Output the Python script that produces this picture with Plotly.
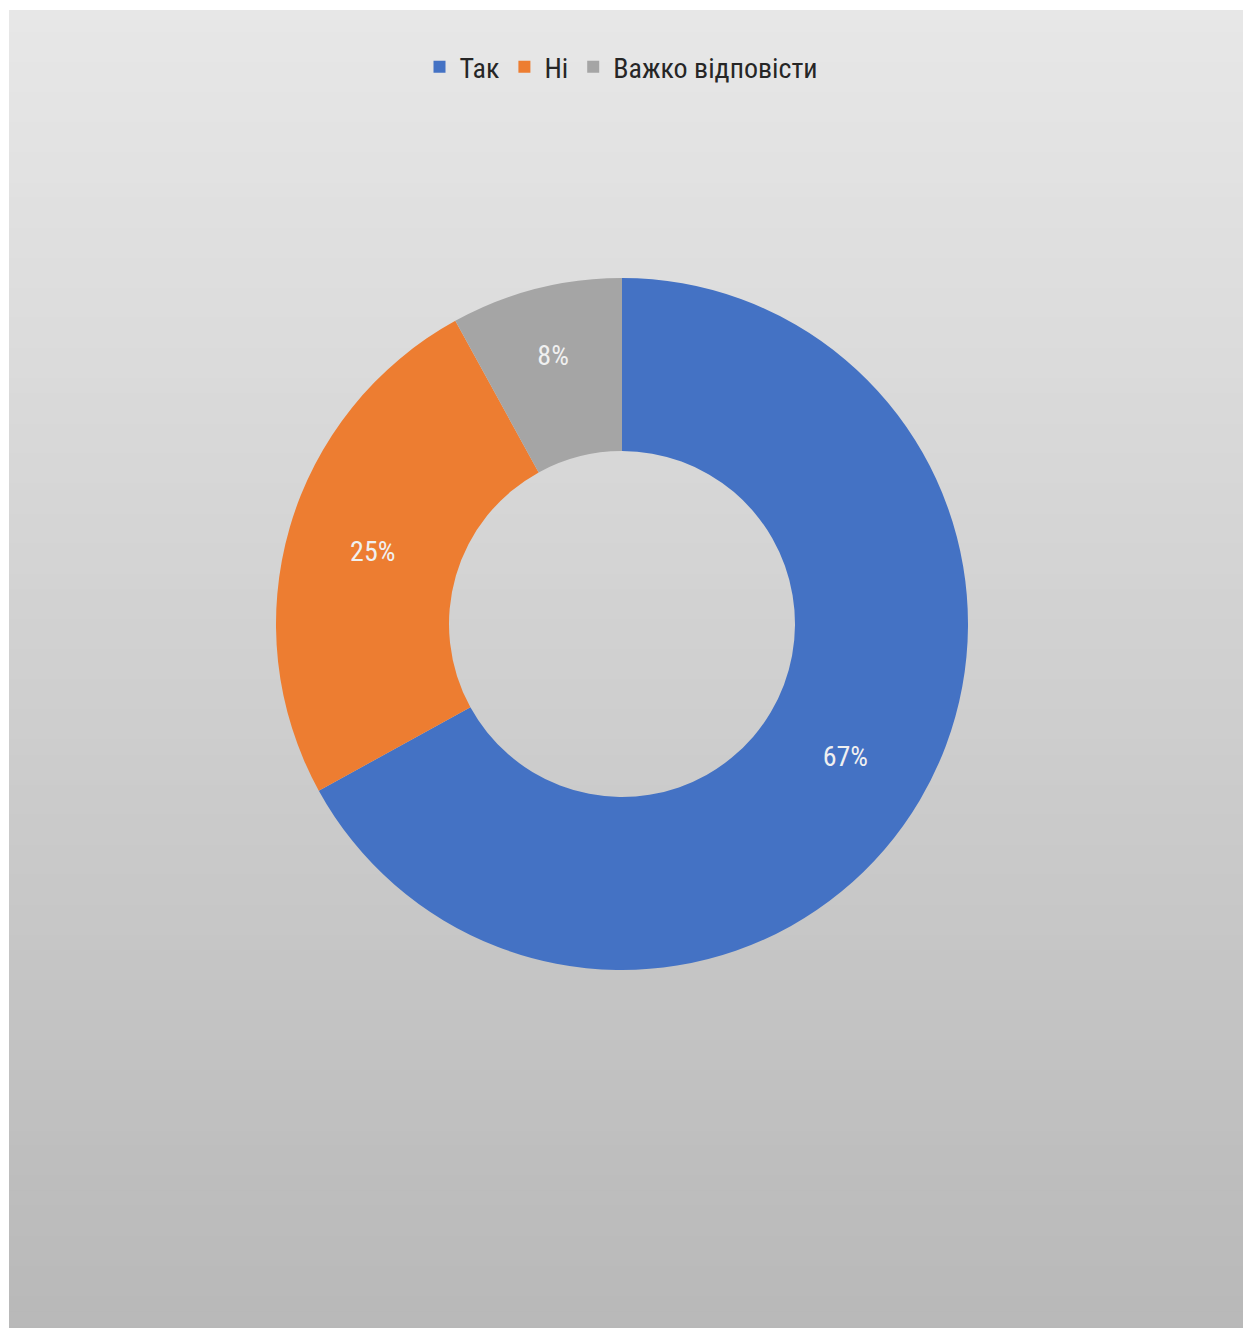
import plotly.graph_objects as go

categories = ["Так", "Ні", "Важко відповісти"]
values = [67, 25, 8]
colors = ["#4472C4", "#ED7D31", "#A5A5A5"]

W, H = 1243, 1328
FONT = "Liberation Sans Narrow, Roboto Condensed, Arial Narrow, Open Sans, sans-serif"

cx, cy = 622 / W, 1 - 624 / H
rx, ry = 346 / W, 346 / H

fig = go.Figure(go.Pie(
    labels=categories,
    values=values,
    hole=0.5,
    sort=False,
    direction="clockwise",
    rotation=0,
    marker=dict(colors=colors, line=dict(width=0)),
    textinfo="percent",
    texttemplate="%{percent:.0%}",
    textposition="inside",
    insidetextorientation="horizontal",
    textfont=dict(color="#f0f0f0", size=28, family=FONT),
    domain=dict(x=[cx - rx, cx + rx], y=[cy - ry, cy + ry]),
    showlegend=True,
))

# gradient background bands
shapes = []
n = 90
top = (232, 232, 232)
bot = (184, 184, 184)
for i in range(n):
    t = i / (n - 1)
    c = tuple(round(top[k] + (bot[k] - top[k]) * t) for k in range(3))
    y1 = 1.01 - 1.02 * i / n
    y0 = 1.01 - 1.02 * (i + 1) / n - 0.002
    shapes.append(dict(type="rect", xref="paper", yref="paper",
                       x0=-0.01, x1=1.01, y0=y0, y1=y1,
                       fillcolor="rgb(%d,%d,%d)" % c, line=dict(width=0),
                       layer="below"))
# white frame at top and left
shapes.append(dict(type="rect", xref="paper", yref="paper", x0=-0.01, x1=1.01,
                   y0=1 - 10 / H, y1=1.01, fillcolor="#ffffff", line=dict(width=0), layer="below"))
shapes.append(dict(type="rect", xref="paper", yref="paper", x0=-0.01, x1=9 / W,
                   y0=-0.01, y1=1.01, fillcolor="#ffffff", line=dict(width=0), layer="below"))

fig.update_layout(
    width=W, height=H,
    margin=dict(l=0, r=0, t=0, b=0),
    paper_bgcolor="rgb(184,184,184)",
    plot_bgcolor="rgba(0,0,0,0)",
    shapes=shapes,
    legend=dict(orientation="h", x=0.5, xanchor="center", y=1 - 67 / H, yanchor="middle",
                font=dict(size=28, color="#262626", family=FONT),
                itemwidth=30, bgcolor="rgba(0,0,0,0)", traceorder="normal"),
    font=dict(family=FONT),
)

fig.write_html("out.html", config={"displayModeBar": False},
               post_script=("document.body.style.margin='0';"
                            "document.body.style.overflow='hidden';"
                            "document.documentElement.style.background='rgb(184,184,184)';"
                            "document.body.style.background='rgb(184,184,184)';"))
